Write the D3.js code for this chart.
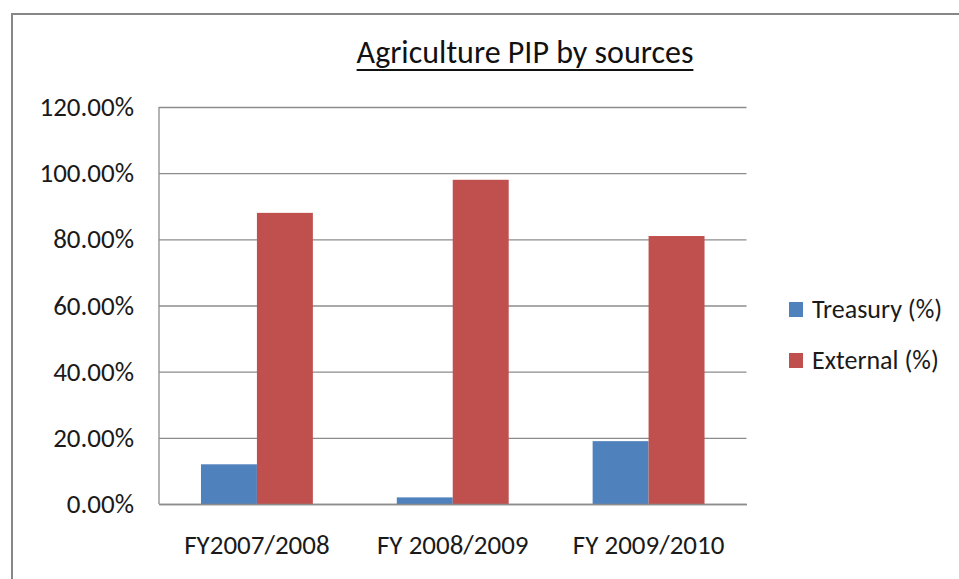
<!DOCTYPE html>
<html>
<head>
<meta charset="utf-8">
<script src="https://cdn.jsdelivr.net/npm/d3@7"></script>
<style>
  html, body { margin: 0; padding: 0; background: #fff; }
  svg { display: block; font-family: Carlito, Lato, "Open Sans", sans-serif; }
</style>
</head>
<body>
<svg id="chart" width="959" height="579"></svg>
<script>
// Agriculture public investment programme, share by funding source
const categories = ["FY2007/2008", "FY 2008/2009", "FY 2009/2010"];
const seriesNames = ["Treasury (%)", "External (%)"];
const treasury = [0.12, 0.02, 0.19];
const external = [0.88, 0.98, 0.81];
const yTicks = [0, 0.2, 0.4, 0.6, 0.8, 1.0, 1.2];
const colors = ["#4F81BD", "#C0504D"];

const svg = d3.select("#chart");
const W = 959, H = 579;
const textColor = "#1a1a1a";
const labelSize = 27;

// outer chart frame
svg.append("rect").attr("x", 0).attr("y", 0).attr("width", W).attr("height", H).attr("fill", "#fff");
svg.append("rect")
  .attr("x", 12).attr("y", 14).attr("width", W + 20).attr("height", H + 20)
  .attr("fill", "none").attr("stroke", "#878787").attr("stroke-width", 2);

const plot = { left: 159, right: 746.5, top: 107, bottom: 504 };

const y = d3.scaleLinear().domain([0, 1.2]).range([plot.bottom, plot.top]);
const x = d3.scaleBand().domain(categories)
  .range([plot.left, plot.right])
  .paddingInner(0.4286).paddingOuter(0.2143);
const xs = d3.scaleBand().domain(seriesNames).range([0, x.bandwidth()]);

// horizontal gridlines
svg.append("g")
  .attr("transform", `translate(${plot.left},0)`)
  .call(d3.axisLeft(y).tickValues(yTicks).tickSize(-(plot.right - plot.left)).tickFormat(""))
  .call(g => g.select(".domain").remove())
  .call(g => g.selectAll("line").attr("stroke", "#8c8c8c").attr("stroke-width", 1.3));

// y tick labels
svg.append("g")
  .attr("transform", `translate(${plot.left},0)`)
  .call(d3.axisLeft(y).tickValues(yTicks).tickSize(0).tickPadding(25)
    .tickFormat(d => (d * 100).toFixed(2) + "%"))
  .call(g => g.select(".domain").remove())
  .call(g => g.selectAll("text").attr("font-size", labelSize).attr("fill", textColor)
    .attr("font-family", "Carlito, Lato, sans-serif"));

// bars
const rows = categories.map((c, i) => ({ c, vals: [treasury[i], external[i]] }));
const groups = svg.append("g").selectAll("g").data(rows).join("g")
  .attr("transform", d => `translate(${x(d.c)},0)`);
groups.selectAll("rect")
  .data(d => d.vals.map((v, k) => ({ v, k })))
  .join("rect")
  .attr("x", d => xs(seriesNames[d.k]))
  .attr("width", xs.bandwidth())
  .attr("y", d => y(d.v))
  .attr("height", d => y(0) - y(d.v))
  .attr("fill", d => colors[d.k]);

// axis lines
svg.append("line")
  .attr("x1", plot.left).attr("x2", plot.left).attr("y1", plot.top).attr("y2", plot.bottom)
  .attr("stroke", "#8c8c8c").attr("stroke-width", 1.3);
svg.append("g")
  .attr("transform", `translate(0,${plot.bottom})`)
  .call(d3.axisBottom(x).tickSize(0).tickPadding(31))
  .call(g => g.select(".domain").attr("stroke", "#8c8c8c").attr("stroke-width", 1.5))
  .call(g => g.selectAll("text").attr("font-size", labelSize).attr("fill", textColor)
    .attr("font-family", "Carlito, Lato, sans-serif"));

// title with underline
const title = svg.append("text")
  .attr("x", 525).attr("y", 63)
  .attr("text-anchor", "middle")
  .attr("font-size", 32).attr("fill", "#111")
  .text("Agriculture PIP by sources");
const tw = title.node().getComputedTextLength();
svg.append("line")
  .attr("x1", 525 - tw / 2).attr("x2", 525 + tw / 2)
  .attr("y1", 70).attr("y2", 70)
  .attr("stroke", "#111").attr("stroke-width", 2);

// legend
const legend = svg.append("g").selectAll("g").data(seriesNames).join("g")
  .attr("transform", (d, i) => `translate(789,${302 + i * 51})`);
legend.append("rect").attr("width", 14).attr("height", 15)
  .attr("fill", (d, i) => colors[i]);
legend.append("text").attr("x", 23).attr("y", 16)
  .attr("font-size", 26).attr("fill", textColor)
  .text(d => d);
</script>
</body>
</html>
